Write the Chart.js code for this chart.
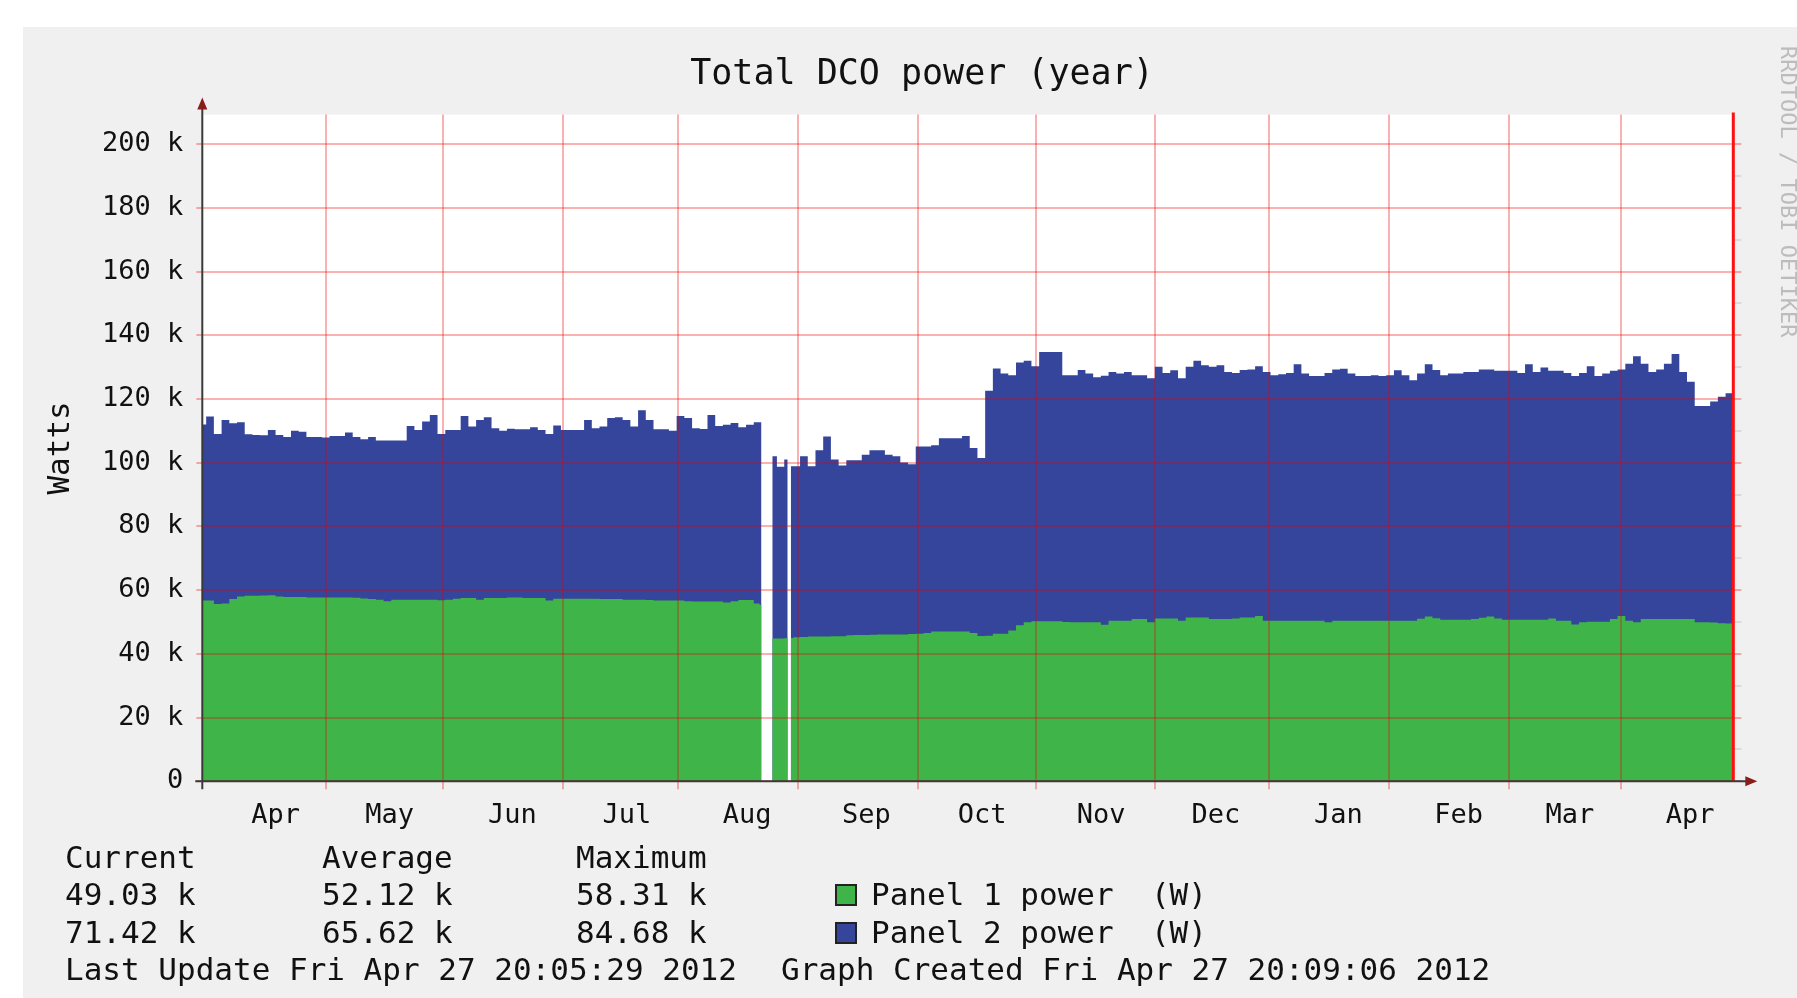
<!DOCTYPE html>
<html>
<head>
<meta charset="utf-8">
<title>Total DCO power (year)</title>
<script src="https://cdn.jsdelivr.net/npm/chart.js@4.4.1/dist/chart.umd.min.js"></script>
<style>
  html, body { margin: 0; padding: 0; background: #fff; overflow: hidden; }
  body { width: 1797px; height: 998px; position: relative; }
  #panel { position: absolute; left: 23px; top: 27px; width: 1798px; height: 971px; background: #eff0ef; }
  #chart { position: absolute; left: 0; top: 0; }
  .txt { position: absolute; font-family: 'DejaVu Sans Mono', monospace; font-size: 31px; line-height: 31px; color: #111; white-space: pre; }
  .swatch { position: absolute; width: 18px; height: 18px; border: 2px solid #222; }
  #watermark { position: absolute; left: 1754px; top: 19px; writing-mode: vertical-rl; font-family: 'DejaVu Sans Mono', monospace; font-size: 22px; line-height: 22px; color: #bcbcbc; white-space: pre; }
</style>
</head>
<body>
<div id="panel">
  <canvas id="chart" width="1798" height="971"></canvas>

  <div class="txt" style="left:42px;top:815px">Current</div>
  <div class="txt" style="left:299px;top:815px">Average</div>
  <div class="txt" style="left:553px;top:815px">Maximum</div>

  <div class="txt" style="left:42px;top:852px">49.03 k</div>
  <div class="txt" style="left:299px;top:852px">52.12 k</div>
  <div class="txt" style="left:553px;top:852px">58.31 k</div>
  <div class="swatch" style="left:812px;top:857px;background:#3fb549"></div>
  <div class="txt" style="left:848px;top:852px">Panel 1 power  (W)</div>

  <div class="txt" style="left:42px;top:890px">71.42 k</div>
  <div class="txt" style="left:299px;top:890px">65.62 k</div>
  <div class="txt" style="left:553px;top:890px">84.68 k</div>
  <div class="swatch" style="left:812px;top:895px;background:#34459b"></div>
  <div class="txt" style="left:848px;top:890px">Panel 2 power  (W)</div>

  <div class="txt" style="left:42px;top:927px">Last Update Fri Apr 27 20:05:29 2012</div>
  <div class="txt" style="left:758px;top:927px">Graph Created Fri Apr 27 20:09:06 2012</div>

  <div id="watermark">RRDTOOL / TOBI OETIKER</div>
</div>

<script>
// --- Chart data (kW), x = days since 30 Mar 2011 ---
const days = [
  0, 2, 4, 6, 8, 10, 12, 14, 16, 18, 20, 22, 24, 26, 28, 30, 32, 34, 36, 38,
  40, 42, 44, 46, 48, 50, 52, 54, 56, 58, 60, 62, 64, 66, 68, 70, 72, 74, 76, 78,
  80, 82, 84, 86, 88, 90, 92, 94, 96, 98, 100, 102, 104, 106, 108, 110, 112, 114, 116, 118,
  120, 122, 124, 126, 128, 130, 132, 134, 136, 138, 140, 142, 144, 145, 146, 147.8, 148, 150, 151.8, 152.2, 152.6,
  154, 156, 158, 160, 162, 164, 166, 168, 170, 172, 174, 176, 178, 180, 182, 184, 186, 188, 190, 192,
  194, 196, 198, 200, 202, 204, 206, 208, 210, 212, 214, 216, 218, 220, 222, 224, 226, 228, 230, 232,
  234, 236, 238, 240, 242, 244, 246, 248, 250, 252, 254, 256, 258, 260, 262, 264, 266, 268, 270, 272,
  274, 276, 278, 280, 282, 284, 286, 288, 290, 292, 294, 296, 298, 300, 302, 304, 306, 308, 310, 312,
  314, 316, 318, 320, 322, 324, 326, 328, 330, 332, 334, 336, 338, 340, 342, 344, 346, 348, 350, 352,
  354, 356, 358, 360, 362, 364, 366, 368, 370, 372, 374, 376, 378, 380, 382, 384, 386, 388, 390, 392, 394, 396, 397
];

const panel1 = [
  56.7, 56.7, 55.6, 55.8, 57.2, 58.0, 58.2, 58.2, 58.3, 58.4, 58.0, 57.8, 57.8, 57.8, 57.7, 57.7, 57.7, 57.7, 57.7, 57.7,
  57.6, 57.4, 57.2, 57.0, 56.5, 57.0, 57.0, 57.0, 57.0, 57.0, 57.0, 56.8, 57.0, 57.3, 57.5, 57.5, 57.0, 57.5, 57.5, 57.5,
  57.7, 57.7, 57.5, 57.5, 57.5, 56.7, 57.3, 57.3, 57.3, 57.3, 57.3, 57.3, 57.2, 57.2, 57.2, 57.0, 57.0, 57.0, 56.9, 56.7,
  56.7, 56.7, 56.7, 56.5, 56.4, 56.4, 56.4, 56.4, 56.1, 56.5, 56.9, 56.9, 55.8, 55.4, null, 44.8, 44.8, 44.8, 44.9, null, 45.0,
  45.2, 45.3, 45.4, 45.4, 45.4, 45.5, 45.5, 45.8, 45.9, 45.9, 46.0, 46.1, 46.1, 46.1, 46.1, 46.2, 46.3, 46.5, 47.0, 47.0,
  47.0, 47.0, 47.0, 46.5, 45.6, 45.7, 46.3, 46.3, 47.3, 49.0, 49.9, 50.2, 50.2, 50.2, 50.2, 50.0, 49.9, 49.9, 49.9, 49.9,
  49.1, 50.4, 50.4, 50.4, 50.9, 50.9, 49.9, 51.1, 51.1, 51.1, 50.4, 51.4, 51.4, 51.4, 50.9, 50.9, 50.9, 51.1, 51.4, 51.4,
  51.9, 50.4, 50.4, 50.4, 50.4, 50.4, 50.4, 50.4, 50.4, 49.9, 50.4, 50.4, 50.4, 50.4, 50.4, 50.4, 50.4, 50.4, 50.4, 50.4,
  50.4, 51.0, 51.7, 51.2, 50.7, 50.7, 50.7, 50.7, 50.9, 51.3, 51.7, 51.1, 50.7, 50.7, 50.7, 50.7, 50.7, 50.7, 51.1, 50.4,
  50.4, 49.2, 49.9, 50.1, 50.1, 50.1, 50.9, 51.9, 50.4, 49.9, 50.9, 50.9, 50.9, 50.9, 50.9, 50.9, 50.9, 49.9, 49.9, 49.8, 49.6, 49.5, 49.5
];

const panel2 = [
  55.3, 57.8, 53.4, 57.6, 55.2, 54.7, 50.7, 50.5, 50.3, 51.9, 50.7, 50.3, 52.2, 51.9, 50.4, 50.4, 50.2, 50.7, 50.7, 51.8,
  50.5, 50.0, 50.9, 50.0, 50.5, 50.0, 50.0, 54.5, 53.3, 55.9, 58.0, 52.2, 53.3, 53.0, 57.2, 53.9, 56.4, 56.8, 53.3, 52.5,
  53.0, 52.8, 53.0, 53.6, 52.8, 52.3, 54.4, 53.0, 53.0, 53.0, 56.1, 53.5, 54.2, 56.8, 57.1, 56.4, 54.4, 59.5, 56.5, 53.8,
  53.8, 53.3, 58.0, 57.5, 54.4, 54.2, 58.6, 55.1, 55.8, 56.0, 54.2, 55.0, 56.9, 57.3, null, 57.2, 57.2, 53.9, 56.1, null, 53.9,
  53.7, 56.7, 53.5, 58.5, 62.8, 55.5, 53.6, 55.0, 54.9, 56.6, 57.9, 57.8, 56.4, 55.9, 54.0, 53.3, 58.8, 58.6, 58.5, 60.7,
  60.7, 60.7, 61.4, 58.1, 55.9, 76.9, 83.3, 81.7, 80.2, 82.5, 82.1, 80.1, 84.6, 84.6, 84.6, 77.5, 77.6, 79.2, 78.1, 76.9,
  78.2, 78.1, 77.6, 78.1, 76.6, 76.6, 76.6, 79.0, 77.1, 77.9, 76.1, 78.7, 80.6, 79.2, 79.2, 79.7, 77.6, 77.1, 77.7, 77.9,
  78.4, 78.1, 77.1, 77.4, 77.8, 80.5, 77.6, 76.8, 76.8, 78.3, 78.9, 79.1, 77.6, 76.8, 76.8, 77.1, 76.8, 77.1, 78.6, 77.1,
  75.5, 77.0, 79.2, 77.9, 76.8, 77.3, 77.3, 77.8, 77.6, 78.0, 77.6, 77.8, 78.2, 78.2, 77.5, 80.2, 77.8, 79.2, 77.8, 78.5,
  77.8, 78.0, 78.3, 80.2, 77.1, 77.9, 78.0, 77.4, 80.7, 83.5, 80.2, 77.6, 78.4, 80.2, 83.2, 77.6, 74.5, 67.9, 67.9, 69.4, 71.1, 72.3, 72.3
];

// month grid lines (first of month) and label positions, in days
const monthGridDays = [32.0, 62.3, 93.6, 123.3, 154.4, 185.5, 216.1, 247.0, 276.6, 307.8, 338.9, 368.0];
const monthLabelDays = [19.0, 48.6, 80.4, 110.1, 141.3, 172.2, 202.2, 233.1, 262.8, 294.6, 325.8, 354.6, 385.8];
const monthLabels = ['Apr', 'May', 'Jun', 'Jul', 'Aug', 'Sep', 'Oct', 'Nov', 'Dec', 'Jan', 'Feb', 'Mar', 'Apr'];
const yTickValues = [0, 10, 20, 30, 40, 50, 60, 70, 80, 90, 100, 110, 120, 130, 140, 150, 160, 170, 180, 190, 200];

const MONO = "'DejaVu Sans Mono', monospace";
const MAJOR = 'rgba(235, 0, 0, 0.3)';
const MINOR = 'rgba(120, 120, 120, 0.18)';

function yGridColor(ctx) {
  if (!ctx.tick) return MINOR;
  return ctx.tick.value % 20 === 0 ? MAJOR : MINOR;
}

function setYTicks(axis) {
  axis.ticks = yTickValues.map(v => ({ value: v }));
}

// white canvas area, red right rule, axes with arrows
const rrdFrame = {
  id: 'rrdFrame',
  beforeDraw(chart) {
    const { ctx, chartArea: a } = chart;
    ctx.save();
    ctx.fillStyle = '#ffffff';
    ctx.fillRect(a.left, a.top, a.right - a.left, a.bottom - a.top);
    ctx.restore();
  },
  afterDraw(chart) {
    const { ctx, chartArea: a } = chart;
    ctx.save();
    ctx.strokeStyle = '#ff1010';
    ctx.lineWidth = 3;
    ctx.beginPath();
    ctx.moveTo(a.right, a.top - 2);
    ctx.lineTo(a.right, a.bottom);
    ctx.stroke();

    ctx.strokeStyle = '#3a3a3a';
    ctx.lineWidth = 2;
    ctx.beginPath();
    ctx.moveTo(a.left, a.bottom + 8);
    ctx.lineTo(a.left, a.top - 8);
    ctx.moveTo(a.left - 7, a.bottom);
    ctx.lineTo(a.right + 14, a.bottom);
    ctx.stroke();

    ctx.fillStyle = '#8a1c1c';
    ctx.beginPath();
    ctx.moveTo(a.left, a.top - 17);
    ctx.lineTo(a.left - 5, a.top - 5);
    ctx.lineTo(a.left + 5, a.top - 5);
    ctx.closePath();
    ctx.fill();
    ctx.beginPath();
    ctx.moveTo(a.right + 24, a.bottom);
    ctx.lineTo(a.right + 12, a.bottom - 5);
    ctx.lineTo(a.right + 12, a.bottom + 5);
    ctx.closePath();
    ctx.fill();
    ctx.restore();
  }
};

Chart.defaults.font.family = MONO;
Chart.defaults.color = '#111';

const ctx = document.getElementById('chart').getContext('2d');
new Chart(ctx, {
  type: 'line',
  data: {
    datasets: [
      {
        label: 'Panel 1 power  (W)',
        data: days.map((d, i) => ({ x: d, y: panel1[i] })),
        backgroundColor: '#3fb549',
        borderColor: 'rgba(0,0,0,0)',
        borderWidth: 0,
        fill: 'origin',
        stepped: 'middle',
        pointRadius: 0,
        spanGaps: false
      },
      {
        label: 'Panel 2 power  (W)',
        data: days.map((d, i) => ({ x: d, y: panel2[i] })),
        backgroundColor: '#34459b',
        borderColor: 'rgba(0,0,0,0)',
        borderWidth: 0,
        fill: 'origin',
        stepped: 'middle',
        pointRadius: 0,
        spanGaps: false
      }
    ]
  },
  options: {
    responsive: false,
    animation: false,
    layout: { padding: { left: 0, right: 0, top: 0, bottom: 0 } },
    plugins: {
      legend: { display: false },
      tooltip: { enabled: false },
      title: {
        display: true,
        text: 'Total DCO power (year)',
        color: '#111',
        font: { family: MONO, size: 35, weight: 'normal' },
        padding: { top: 26.5, bottom: 19.1 }
      }
    },
    scales: {
      x: {
        type: 'linear',
        min: 0,
        max: 397,
        afterBuildTicks: axis => {
          axis.ticks = [...monthGridDays, ...monthLabelDays].sort((a, b) => a - b).map(v => ({ value: v }));
        },
        afterFit: axis => { axis.height = 216.8; },
        ticks: {
          autoSkip: false,
          maxRotation: 0,
          padding: 10.5,
          font: { family: MONO, size: 27 },
          callback: v => {
            const i = monthLabelDays.indexOf(v);
            return i >= 0 ? monthLabels[i] : '';
          }
        },
        grid: {
          z: 1,
          lineWidth: 2,
          tickLength: 8,
          color: c => (c.tick && monthGridDays.includes(c.tick.value)) ? MAJOR : 'rgba(0,0,0,0)'
        },
        border: { display: false }
      },
      y: {
        type: 'linear',
        position: 'left',
        stacked: true,
        min: 0,
        max: 209.3,
        afterBuildTicks: setYTicks,
        afterFit: axis => { axis.width = 179.3; },
        title: {
          display: true,
          text: 'Watts',
          color: '#111',
          font: { family: MONO, size: 31 },
          padding: { top: 19.4, bottom: 0 }
        },
        ticks: {
          padding: 13,
          font: { family: MONO, size: 27 },
          callback: v => (v % 20 === 0 ? (v === 0 ? '0' : v + ' k') : '')
        },
        grid: { z: 1, lineWidth: 2, tickLength: 6, color: yGridColor },
        border: { display: false }
      },
      y2: {
        type: 'linear',
        position: 'right',
        min: 0,
        max: 209.3,
        afterBuildTicks: setYTicks,
        afterFit: axis => { axis.width = 87.7; },
        ticks: { display: false },
        grid: { drawOnChartArea: false, lineWidth: 2, tickLength: 8, color: yGridColor },
        border: { display: false }
      }
    }
  },
  plugins: [rrdFrame]
});
</script>
</body>
</html>
